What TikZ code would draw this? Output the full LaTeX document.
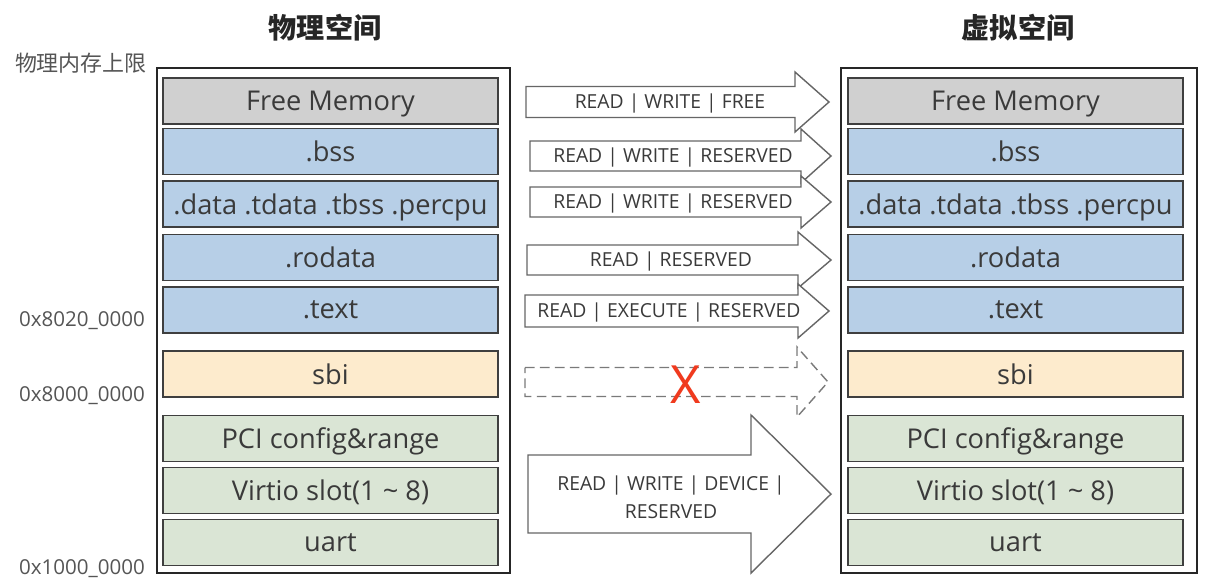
\documentclass[tikz,border=0pt]{standalone}
\usepackage{fontspec}
\setmainfont{Open Sans}
\newfontfamily\cjk{Noto Sans CJK SC}

\definecolor{freegray}{HTML}{D0D0D0}
\definecolor{segblue}{HTML}{B7CFE7}
\definecolor{sbiorange}{HTML}{FDEBCD}
\definecolor{devgreen}{HTML}{DAE5D5}
\definecolor{edgegray}{HTML}{3F3F3F}
\definecolor{txt}{HTML}{3A3A3A}
\definecolor{addrgray}{HTML}{555555}
\definecolor{arrowgray}{HTML}{666666}
\definecolor{dashgray}{HTML}{7A7A7A}
\definecolor{crossred}{HTML}{F03A1E}

% fat arrow: [options]{x tail}{x head base}{x tip}{y centre}{half shaft}{half head}
\newcommand\maparrow[7][]{%
  \draw[fat,#1] (#2,#5-#6) -- (#3,#5-#6) -- (#3,#5-#7) -- (#4,#5)
    -- (#3,#5+#7) -- (#3,#5+#6) -- (#2,#5+#6) -- cycle;}

\begin{document}
\begin{tikzpicture}[x=0.02cm, y=-0.02cm,
            block/.style = {draw=edgegray, line width=0.8pt, text=txt,
                minimum width=6.7cm, minimum height=0.92cm, inner sep=0pt,
                text depth=0pt, font=\fontsize{15.5}{17}\selectfont},
            freeblk/.style = {block, fill=freegray},
            segblk/.style = {block, fill=segblue},
            sbiblk/.style = {block, fill=sbiorange},
            devblk/.style = {block, fill=devgreen},
            spacebox/.style = {draw=black!85, line width=1.2pt, fill=white},
            heading/.style = {font=\cjk\bfseries\fontsize{16}{18}\selectfont, text=black!85},
            addr/.style = {anchor=east, text=addrgray, font=\fontsize{11.7}{13}\selectfont},
            fat/.style = {draw=arrowgray, line width=0.8pt, fill=white, line join=miter},
            fatgone/.style = {draw=dashgray, dash pattern=on 5.5pt off 3pt},
            perm/.style = {text=txt, align=center, inner sep=0pt,
                font=\fontsize{11}{16}\selectfont}]
  \useasboundingbox[fill=white] (0,0) rectangle (1210,585);

  % headings and addresses
  \node[heading] (phead) at (325,28) {物理空间};
  \node[heading] (vhead) at (1018,28) {虚拟空间};
  \node[addr, font=\cjk\fontsize{12.5}{14}\selectfont] (plimit) at (153,63) {物理内存上限};
  \node[addr] (pkernel) at (151,321) {0x8020\_0000};
  \node[addr] (psbiaddr) at (151,396) {0x8000\_0000};
  \node[addr] (pmmio) at (151,569) {0x1000\_0000};

  % physical space
  \draw[spacebox] (157,68) rectangle (510,573);
  \node[freeblk] (pfree) at (330.5,101) {Free Memory};
  \node[segblk] (pbss) at (330.5,151.5) {.bss};
  \node[segblk] (pdata) at (330.5,204) {.data .tdata .tbss .percpu};
  \node[segblk] (prodata) at (330.5,257.5) {.rodata};
  \node[segblk] (ptext) at (330.5,310) {.text};
  \node[sbiblk] (psbi) at (330.5,374) {sbi};
  \node[devblk] (ppci) at (330.5,438.5) {PCI config\&range};
  \node[devblk] (pvirtio) at (330.5,490.5) {Virtio slot(1 \textasciitilde{} 8)};
  \node[devblk] (puart) at (330.5,542.5) {uart};

  % virtual space
  \draw[spacebox] (841,68) rectangle (1197,573);
  \node[freeblk] (vfree) at (1015.5,101) {Free Memory};
  \node[segblk] (vbss) at (1015.5,151.5) {.bss};
  \node[segblk] (vdata) at (1015.5,204) {.data .tdata .tbss .percpu};
  \node[segblk] (vrodata) at (1015.5,257.5) {.rodata};
  \node[segblk] (vtext) at (1015.5,310) {.text};
  \node[sbiblk] (vsbi) at (1015.5,374) {sbi};
  \node[devblk] (vpci) at (1015.5,438.5) {PCI config\&range};
  \node[devblk] (vvirtio) at (1015.5,490.5) {Virtio slot(1 \textasciitilde{} 8)};
  \node[devblk] (vuart) at (1015.5,542.5) {uart};

  % mappings
  \maparrow{526}{795}{829}{102}{15.5}{30}
  \node[perm] (mfree) at (670,103) {READ | WRITE | FREE};
  \maparrow{530}{801}{831}{156}{15}{27}
  \node[perm] (mbss) at (673,157) {READ | WRITE | RESERVED};
  \maparrow{530}{801}{831}{202}{15}{26}
  \node[perm] (mdata) at (673,203) {READ | WRITE | RESERVED};
  \maparrow{527}{798}{831}{260}{15}{28}
  \node[perm] (mrodata) at (671,261) {READ | RESERVED};
  \maparrow{525}{798}{829}{311}{16}{27}
  \node[perm] (mtext) at (669,312) {READ | EXECUTE | RESERVED};
  \maparrow[fatgone]{525}{797}{828}{382}{14.5}{35}
  \node[text=crossred, inner sep=0pt, font=\fontsize{30}{30}\selectfont] (nosbi) at (686,385) {X};
  \maparrow{528}{751}{831}{494}{39}{79}
  \node[perm] (mdev) at (671,497) {READ | WRITE | DEVICE |\\RESERVED};
\end{tikzpicture}
\end{document}
